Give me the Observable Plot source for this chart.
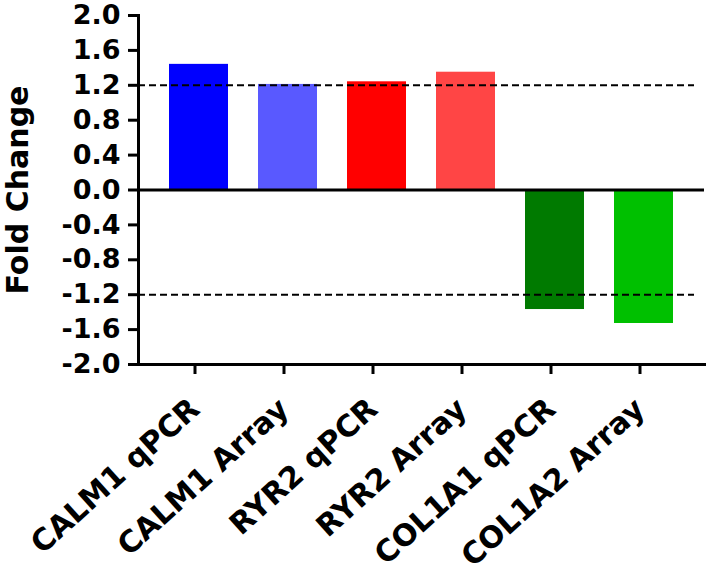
<!DOCTYPE html>
<html>
<head>
<meta charset="utf-8">
<script src="https://cdn.jsdelivr.net/npm/d3@7"></script>
<script src="https://cdn.jsdelivr.net/npm/@observablehq/plot@0.6"></script>
<style>
  html, body { margin: 0; padding: 0; background: #fff; }
  #chart svg { display: block; }
</style>
</head>
<body>
<div id="chart"></div>
<script>
const categories = ["CALM1 qPCR", "CALM1 Array", "RYR2 qPCR", "RYR2 Array", "COL1A1 qPCR", "COL1A2 Array"];
const values = [1.44, 1.21, 1.24, 1.35, -1.37, -1.53];
const colors = ["#0000FF", "#5959FF", "#FF0000", "#FF4545", "#007A00", "#00C000"];
const yTicks = [-2.0, -1.6, -1.2, -0.8, -0.4, 0.0, 0.4, 0.8, 1.2, 1.6, 2.0];
const thresholds = [1.2, -1.2];
const yLabel = "Fold Change";

const data = categories.map((c, i) => ({cat: c, value: values[i], color: colors[i]}));
const font = "DejaVu Sans, sans-serif";

const chart = Plot.plot({
  width: 709,
  height: 572,
  marginLeft: 138,
  marginRight: 5,
  marginTop: 15,
  marginBottom: 208,
  style: {background: "white", color: "black"},
  x: {domain: categories, padding: 0.34},
  y: {domain: [-2, 2]},
  color: {type: "identity"},
  marks: [
    Plot.barY(data, {x: "cat", y: "value", fill: "color"}),
    Plot.ruleY(thresholds, {stroke: "black", strokeWidth: 2, strokeDasharray: "7,4", insetRight: 10}),
    Plot.ruleY([0], {stroke: "black", strokeWidth: 3}),
    Plot.frame({anchor: "left", stroke: "black", strokeWidth: 3}),
    Plot.frame({anchor: "bottom", stroke: "black", strokeWidth: 3}),
    Plot.axisY({
      ticks: yTicks,
      tickFormat: d => d.toFixed(1),
      tickSize: 10,
      tickPadding: 8,
      strokeWidth: 3,
      fontSize: 27,
      fontWeight: "bold",
      fontFamily: font,
      label: null
    }),
    Plot.axisX({
      tickSize: 10,
      tickPadding: 30,
      tickRotate: -42,
      strokeWidth: 3,
      fontSize: 30,
      fontWeight: "bold",
      fontFamily: font,
      dx: -4,
      label: null
    }),
    Plot.text([yLabel], {
      text: d => d,
      frameAnchor: "left",
      textAnchor: "middle",
      dx: -120,
      rotate: -90,
      fontSize: 30,
      fontWeight: "bold",
      fontFamily: font
    })
  ]
});
document.getElementById("chart").append(chart);
</script>
</body>
</html>
